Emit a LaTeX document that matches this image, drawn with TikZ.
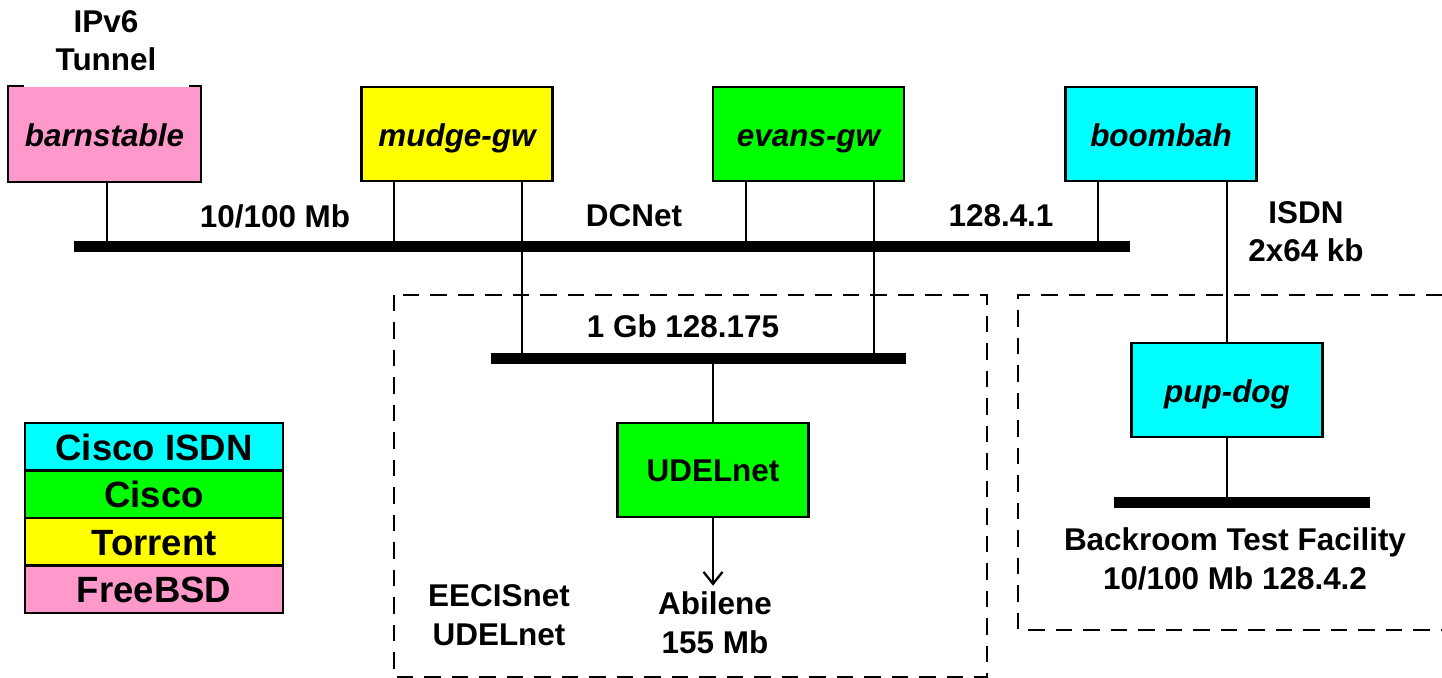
\documentclass[tikz,border=0pt]{standalone}
\usepackage{fontspec}
\setmainfont{Liberation Sans}
\usetikzlibrary{positioning,arrows.meta}

\definecolor{bsdpink}{HTML}{FF99CC}
\definecolor{torrentyellow}{HTML}{FFFF00}
\definecolor{ciscogreen}{HTML}{00FF00}
\definecolor{isdncyan}{HTML}{00FFFF}

\newcommand{\netfont}{\fontsize{17.9}{21.8}\selectfont\bfseries}

\tikzset{
  host/.style={draw,line width=1.4pt,minimum width=3.82cm,minimum height=1.88cm,inner sep=0pt,
    font=\netfont\itshape,text height=0.5cm,text depth=0pt},
  lan/.style={fill=black,inner sep=0pt,minimum height=0.22cm},
  link/.style={line width=1.1pt},
  zone/.style={line width=1.4pt,dash pattern=on 0.33cm off 0.22cm},
  tag/.style={font=\netfont,align=center,anchor=base},
  keyrow/.style={draw,line width=1.4pt,minimum width=5.16cm,minimum height=0.95cm,outer sep=0pt,
    font=\fontsize{20.8}{24}\selectfont\bfseries,text height=0.54cm,text depth=0pt},
}

\begin{document}
\begin{tikzpicture}[x=0.02cm,y=-0.02cm]
\useasboundingbox (0,0) rectangle (1442,678);

% the two dashed areas
\draw[zone] (394,295) rectangle (987,677);
\draw[zone] (1470,295) -| (1018,630) -- (1470,630);

% hosts on DCNet
\node[host,fill=bsdpink,draw=none] (barn) at (104.5,134) {barnstable};
\draw[line width=1.4pt] (barn.north west) ++(16,0) -- (barn.north west) -- (barn.south west)
  -- (barn.south east) -- (barn.north east) -- ++(-12,0);
\node[tag] (tunnel) at (106,71) {IPv6\\Tunnel};
\node[host,fill=torrentyellow] (mudge) at (457,134) {mudge-gw};
\node[host,fill=ciscogreen] (evans) at (808.5,134) {evans-gw};
\node[host,fill=isdncyan] (boom) at (1161,134) {boombah};

% DCNet
\node[lan,minimum width=21.12cm] (dcnet) at (602,246.5) {};
\node[tag] (dcspeed) at (275,228) {10/100 Mb};
\node[tag] (dcname) at (634,227) {DCNet};
\node[tag] (dcaddr) at (1001,227) {128.4.1};
\node[tag] (isdn) at (1306,262) {ISDN\\2x64 kb};

% EECIS side
\node[lan,minimum width=8.3cm] (gbnet) at (698.5,358.5) {};
\node[tag] (gbname) at (683,338) {1 Gb 128.175};
\node[host,fill=ciscogreen,font=\netfont,text height=0.45cm] (udel) at (713,470) {UDELnet};
\node[tag] (abilene) at (715,653) {Abilene\\155 Mb};
\node[tag] (eecis) at (499,645) {EECISnet\\UDELnet};

% backroom side
\node[host,fill=isdncyan] (pup) at (1227,390) {pup-dog};
\node[lan,minimum width=5.12cm] (backnet) at (1242,502.5) {};
\node[tag] (backroom) at (1235,589) {Backroom Test Facility\\10/100 Mb 128.4.2};

% drops
\draw[link] (barn.south -| 107,0) -- (dcnet.center -| 107,0);
\draw[link] (mudge.south -| 394,0) -- (dcnet.center -| 394,0);
\draw[link] (mudge.south -| 522,0) -- (gbnet.center -| 522,0);
\draw[link] (evans.south -| 746,0) -- (dcnet.center -| 746,0);
\draw[link] (evans.south -| 874,0) -- (gbnet.center -| 874,0);
\draw[link] (boom.south -| 1098,0) -- (dcnet.center -| 1098,0);
\draw[link] (boom.south -| 1227,0) -- (pup.north);
\draw[link] (gbnet.center -| udel.north) -- (udel.north);
\draw[link,-{Straight Barb[length=0.24cm,width=0.38cm,line width=1.3pt]}] (udel.south) -- (udel.south |- abilene.north);
\draw[link] (pup.south) -- (backnet.center -| pup.south);

% legend
\node[keyrow,fill=isdncyan] (kisdn) at (154,446.75) {Cisco ISDN};
\node[keyrow,fill=ciscogreen,below=0pt of kisdn] (kcisco) {Cisco};
\node[keyrow,fill=torrentyellow,below=0pt of kcisco] (ktorrent) {Torrent};
\node[keyrow,fill=bsdpink,below=0pt of ktorrent] (kbsd) {FreeBSD};
\end{tikzpicture}
\end{document}
